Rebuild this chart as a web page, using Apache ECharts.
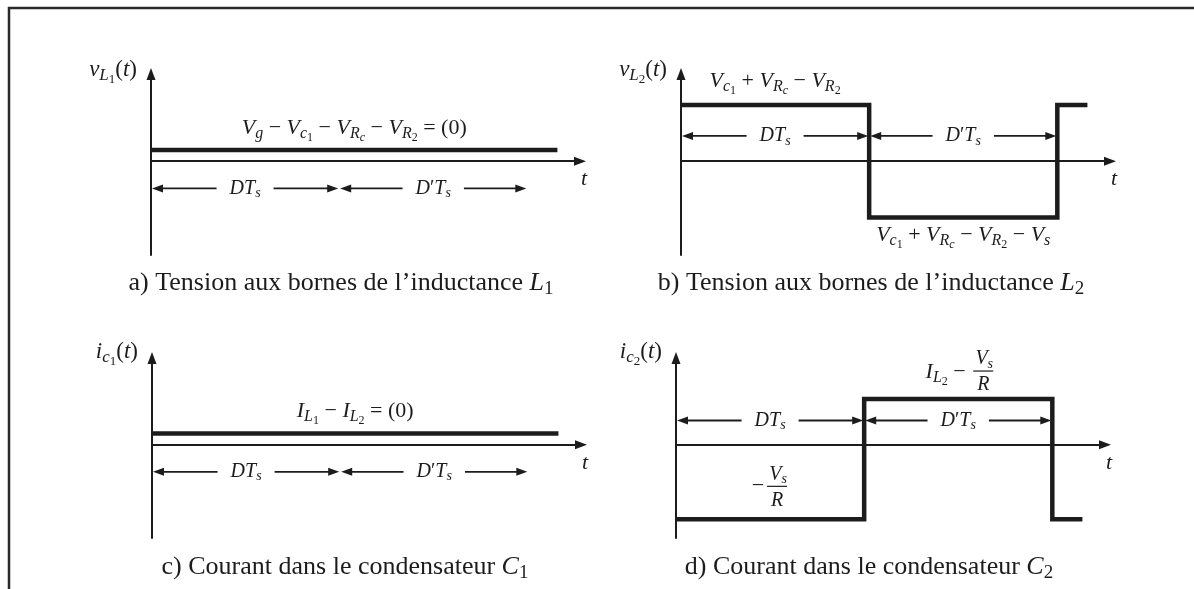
<!DOCTYPE html>
<html>
<head>
<meta charset="utf-8">
<title>Formes d'onde – convertisseur</title>
<script src="https://cdn.jsdelivr.net/npm/echarts@6/dist/echarts.min.js"></script>
<style>
  html, body { margin: 0; padding: 0; background: #fff; }
  #chart { width: 1194px; height: 589px; }
</style>
</head>
<body>
<div id="chart"></div>
<script>
// ---- waveform data (time normalised to the switching period Ts = 1) ----
const periodTs = 1;
const dutyD = 0.5;
const timeAxisMax = 1.14;
const valueAxisMin = -1;
const valueAxisMax = 0.93;

// a) voltage across L1 (average level, shown just above the axis)
const tL1 = [0, 1.08];
const vL1 = [0.12, 0.12];
// b) voltage across L2
const tL2 = [0, 0.5, 1.0, 1.08];
const vL2 = [0.6, -0.6, 0.6, 0.6];
// c) current in C1 (average level, shown just above the axis)
const tC1 = [0, 1.08];
const iC1 = [0.12, 0.12];
// d) current in C2
const tC2 = [0, 0.5, 1.0, 1.08];
const iC2 = [-0.8, 0.49, -0.8, -0.8];
// height of the DTs / D'Ts dimension lines in each panel
const spanLevel = [-0.29, 0.27, -0.29, 0.26];

// ---- text ----
const spanLabels = ['{i|DT}{si|s}', '{i|D}{r|′}{i|T}{si|s}'];
const axisNames = [
  '{i|v}{si|L}{ssr|1}{r|(}{i|t}{r|)}',
  '{i|v}{si|L}{ssr|2}{r|(}{i|t}{r|)}',
  '{i|i}{si|c}{ssr|1}{r|(}{i|t}{r|)}',
  '{i|i}{si|c}{ssr|2}{r|(}{i|t}{r|)}'
];
const exprA = '{i|V}{si|g}{r| − }{i|V}{si|c}{ssr|1}{r| − }{i|V}{si|R}{ssi|c}{r| − }{i|V}{si|R}{ssr|2}{r| = (0)}';
const exprBHigh = '{i|V}{si|c}{ssr|1}{r| + }{i|V}{si|R}{ssi|c}{r| − }{i|V}{si|R}{ssr|2}';
const exprBLow = '{i|V}{si|c}{ssr|1}{r| + }{i|V}{si|R}{ssi|c}{r| − }{i|V}{si|R}{ssr|2}{r| − }{i|V}{si|s}';
const exprC = '{i|I}{si|L}{ssr|1}{r| − }{i|I}{si|L}{ssr|2}{r| = (0)}';
const exprDHighLead = '{i|I}{si|L}{ssr|2}{r| − }';
const exprDLowLead = '{r|−}';
const fracNum = '{i|V}{si|s}';
const fracDen = '{i|R}';
const captions = [
  '{r|a) Tension aux bornes de l’inductance }{i|L}{sr|1}',
  '{r|b) Tension aux bornes de l’inductance }{i|L}{sr|2}',
  '{r|c) Courant dans le condensateur }{i|C}{sr|1}',
  '{r|d) Courant dans le condensateur }{i|C}{sr|2}'
];

const INK = '#1c1c1c';
const SERIF = '"Liberation Serif", "Times New Roman", serif';

// rich-text styles for italic variables with sub / sub-sub scripts
function mathRich(F) {
  const s1 = Math.round(F * 0.72), s2 = Math.round(F * 0.56);
  const p1 = Math.round(2 * (0.33 * F + 0.16 * F - 0.33 * s1));
  const p2 = Math.round(2 * (0.33 * F + 0.28 * F - 0.33 * s2));
  const mk = (size, italic, pad) => Object.assign({
    fontFamily: SERIF, fontSize: size, fontStyle: italic ? 'italic' : 'normal',
    fill: INK, verticalAlign: 'middle'
  }, pad ? { padding: [pad, 0, 0, 0] } : {});
  return {
    i: mk(F, true, 0), r: mk(F, false, 0),
    si: mk(s1, true, p1), sr: mk(s1, false, p1),
    ssi: mk(s2, true, p2), ssr: mk(s2, false, p2)
  };
}

function textEl(x, y, text, F, align, extra) {
  return {
    type: 'text', x: x, y: y, silent: true, z: 10,
    style: Object.assign({
      text: text, rich: mathRich(F), fill: INK, fontFamily: SERIF, fontSize: F,
      align: align, textAlign: align, verticalAlign: 'middle', textVerticalAlign: 'middle'
    }, extra || {})
  };
}

const grids = [
  { left: 151, top: 74, width: 429, height: 181 },
  { left: 681, top: 74, width: 429, height: 181 },
  { left: 152, top: 358, width: 429, height: 180 },
  { left: 676, top: 358, width: 429, height: 180 }
];

const axisLine = {
  show: true, onZero: true,
  symbol: ['none', 'triangle'], symbolSize: [9, 12],
  lineStyle: { color: INK, width: 2 }
};
function axis(i, min, max) {
  return {
    gridIndex: i, type: 'value', min: min, max: max,
    axisLine: axisLine, axisTick: { show: false }, axisLabel: { show: false },
    splitLine: { show: false }, name: ''
  };
}

function waveSeries(i, t, v) {
  return {
    type: 'line', xAxisIndex: i, yAxisIndex: i, silent: true,
    data: t.map((x, k) => [x, v[k]]), step: 'end', symbol: 'none',
    lineStyle: { color: INK, width: 4.5, join: 'miter', cap: 'butt' }
  };
}

// double-headed dimension arrows for the DTs and D'Ts intervals
function spanSeries(i) {
  const y = spanLevel[i];
  return {
    type: 'custom', xAxisIndex: i, yAxisIndex: i, silent: true, clip: false, z: 5,
    data: [[0, dutyD * periodTs, y], [dutyD * periodTs, periodTs, y]],
    renderItem: function (params, api) {
      const a = api.coord([api.value(0), api.value(2)]);
      const b = api.coord([api.value(1), api.value(2)]);
      const head = 11, half = 4;
      const x0 = a[0] + 1, x1 = b[0] - 1, yy = a[1];
      return {
        type: 'group',
        children: [
          { type: 'line', shape: { x1: x0 + head - 1, y1: yy, x2: x1 - head + 1, y2: yy },
            style: { stroke: INK, lineWidth: 1.8 } },
          { type: 'polygon', shape: { points: [[x0, yy], [x0 + head, yy - half], [x0 + head, yy + half]] },
            style: { fill: INK } },
          { type: 'polygon', shape: { points: [[x1, yy], [x1 - head, yy - half], [x1 - head, yy + half]] },
            style: { fill: INK } },
          {
            type: 'text', x: (x0 + x1) / 2, y: yy,
            style: {
              text: spanLabels[params.dataIndex], rich: mathRich(20), fill: INK,
              fontFamily: SERIF, fontSize: 20,
              align: 'center', textAlign: 'center', verticalAlign: 'middle', textVerticalAlign: 'middle',
              backgroundColor: '#fff', padding: [0, 13]
            }
          }
        ]
      };
    }
  };
}

const chart = echarts.init(document.getElementById('chart'), null, { renderer: 'canvas' });

const option = {
  animation: false,
  backgroundColor: '#fff',
  grid: grids.map(g => Object.assign({ outerBoundsMode: 'none', containLabel: false }, g)),
  xAxis: grids.map((g, i) => axis(i, 0, timeAxisMax)),
  yAxis: grids.map((g, i) => axis(i, valueAxisMin, valueAxisMax)),
  series: [
    waveSeries(0, tL1, vL1),
    waveSeries(1, tL2, vL2),
    waveSeries(2, tC1, iC1),
    waveSeries(3, tC2, iC2),
    spanSeries(0), spanSeries(1), spanSeries(2), spanSeries(3)
  ]
};
chart.setOption(option);

// ---- annotations placed from data coordinates ----
const P = (g, x, y) => chart.convertToPixel({ gridIndex: g }, [x, y]);

// fraction V_s / R centred at (fx, barY)
function fraction(fx, barY) {
  return [
    { type: 'line', silent: true, z: 10, shape: { x1: fx - 10, y1: barY, x2: fx + 10, y2: barY },
      style: { stroke: INK, lineWidth: 1.2 } },
    textEl(fx + 1, barY - 12, fracNum, 20, 'center'),
    textEl(fx, barY + 14, fracDen, 20, 'center')
  ];
}

const els = [];
// frame
els.push({
  type: 'polyline', silent: true,
  shape: { points: [[9, 589], [9, 8], [1194, 8]] },
  style: { stroke: '#2a2a2a', lineWidth: 2.5, fill: null }
});

// axis names and time labels
const yTops = [0, 1, 2, 3].map(g => P(g, 0, valueAxisMax));
const xEnds = [0, 1, 2, 3].map(g => P(g, timeAxisMax, 0));
const nameDy = [-4, -4, -6, -6];
yTops.forEach((p, g) => els.push(textEl(p[0] - 14, p[1] + nameDy[g], axisNames[g], 23, 'right')));
xEnds.forEach(p => els.push(textEl(p[0] + 4, p[1] + 18, '{i|t}', 22, 'center')));

// level expressions
let p = P(0, 0.54, vL1[0]);
els.push(textEl(p[0], p[1] - 22, exprA, 22, 'center'));
p = P(1, dutyD / 2, vL2[0]);
els.push(textEl(p[0], p[1] - 24, exprBHigh, 22, 'center'));
p = P(1, (dutyD + periodTs) / 2, vL2[1]);
els.push(textEl(p[0], p[1] + 18, exprBLow, 22, 'center'));
p = P(2, 0.54, iC1[0]);
els.push(textEl(p[0], p[1] - 22, exprC, 22, 'center'));

p = P(3, (dutyD + periodTs) / 2, iC2[1]);
let fx = p[0] + 25, barY = p[1] - 28;
els.push(textEl(fx - 12, barY + 1, exprDHighLead, 22, 'right'));
fraction(fx, barY).forEach(e => els.push(e));

p = P(3, dutyD / 2, iC2[0]);
fx = p[0] + 7; barY = p[1] - 33;
els.push(textEl(fx - 13, barY, exprDLowLead, 22, 'right'));
fraction(fx, barY).forEach(e => els.push(e));

// panel captions
const capPos = [[341, 283], [871, 283], [345, 567], [869, 567]];
captions.forEach((c, k) => els.push(textEl(capPos[k][0], capPos[k][1], c, 26, 'center')));

chart.setOption({ graphic: { elements: els } });
</script>
</body>
</html>
